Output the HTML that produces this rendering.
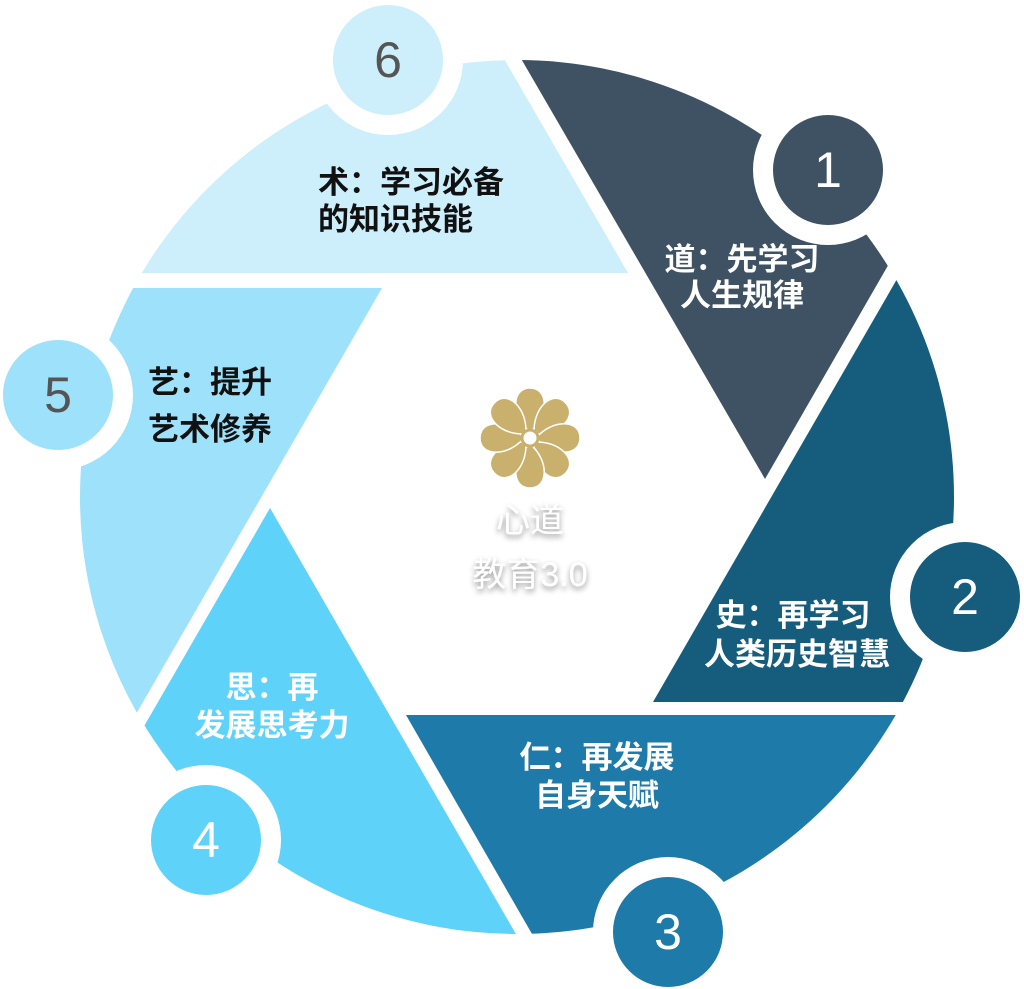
<!DOCTYPE html>
<html><head><meta charset="utf-8"><style>
html,body{margin:0;padding:0;background:#fff;width:1024px;height:989px;overflow:hidden}
svg{display:block}
.t{font-family:"Liberation Sans","Noto Sans CJK SC",sans-serif;font-weight:bold;font-size:31px;dominant-baseline:middle}
.n{font-family:"Liberation Sans",sans-serif;font-size:50px;text-anchor:middle;dominant-baseline:central}
.c{font-family:"Liberation Sans","Noto Sans CJK SC",sans-serif;font-size:34px;fill:#fff;text-anchor:middle;dominant-baseline:middle}
</style></head><body>
<svg width="1024" height="989" viewBox="0 0 1024 989" xmlns="http://www.w3.org/2000/svg">
<defs>
<clipPath id="cc"><circle cx="517" cy="497" r="437"/></clipPath>
<filter id="sh" x="-20%" y="-20%" width="140%" height="160%"><feDropShadow dx="0" dy="3" stdDeviation="3" flood-color="#000" flood-opacity="0.45"/></filter>
</defs>
<g clip-path="url(#cc)">
<polygon fill="#cdeefb" points="0,0 470,0 628,273 0,273"/>
<polygon fill="#3e5263" points="487,0 1041,0 765,479"/>
<polygon fill="#165d7d" points="1058,0 1100,0 1100,702 653,702"/>
<polygon fill="#1e7aa8" points="406,715 1100,715 1100,1000 570,1000"/>
<polygon fill="#5fd2fa" points="270,508 554,1000 -14,1000"/>
<polygon fill="#9de1fa" points="-50,288 382,288 -29,1000 -50,1000"/>
</g>
<g stroke="#fff" stroke-width="20">
<circle cx="828" cy="170" r="65" fill="#3e5263"/>
<circle cx="965" cy="597" r="65" fill="#165d7d"/>
<circle cx="668" cy="932" r="65" fill="#1e7aa8"/>
<circle cx="206" cy="840" r="65" fill="#5fd2fa"/>
<circle cx="58" cy="395" r="65" fill="#9de1fa"/>
<circle cx="388" cy="60" r="65" fill="#cdeefb"/>
</g>
<text class="n" x="828" y="170" fill="#fff">1</text>
<text class="n" x="965" y="597" fill="#fff">2</text>
<text class="n" x="668" y="932" fill="#fff">3</text>
<text class="n" x="206" y="840" fill="#fff">4</text>
<text class="n" x="58" y="395" fill="#555">5</text>
<text class="n" x="388" y="60" fill="#555">6</text>

<text class="t" x="318" y="185" fill="#111">术：学习必备</text>
<text class="t" x="318" y="222" fill="#111">的知识技能</text>
<text class="t" x="742" y="262" fill="#fff" text-anchor="middle">道：先学习</text>
<text class="t" x="742" y="298" fill="#fff" text-anchor="middle">人生规律</text>
<text class="t" x="793" y="618" fill="#fff" text-anchor="middle">史：再学习</text>
<text class="t" x="797" y="657" fill="#fff" text-anchor="middle">人类历史智慧</text>
<text class="t" x="597" y="760" fill="#fff" text-anchor="middle">仁：再发展</text>
<text class="t" x="597" y="798" fill="#fff" text-anchor="middle">自身天赋</text>
<text class="t" x="272" y="690" fill="#fff" text-anchor="middle">思：再</text>
<text class="t" x="272" y="728" fill="#fff" text-anchor="middle">发展思考力</text>
<text class="t" x="148" y="385" fill="#111">艺：提升</text>
<text class="t" x="148" y="432" fill="#111">艺术修养</text>

<g transform="translate(530,438)" fill="#c9b06d" stroke="#fff" stroke-width="1.5">
<g id="p"><path d="M0,-6 C-19,-22 -19,-50 0,-50 C19,-50 19,-22 0,-6 Z"/></g>
<use href="#p" transform="rotate(45)"/>
<use href="#p" transform="rotate(90)"/>
<use href="#p" transform="rotate(135)"/>
<use href="#p" transform="rotate(180)"/>
<use href="#p" transform="rotate(225)"/>
<use href="#p" transform="rotate(270)"/>
<use href="#p" transform="rotate(315)"/>
<circle r="8" fill="#fff" stroke="#c9b06d" stroke-width="3"/>
</g>
<g filter="url(#sh)">
<text class="c" x="530" y="523">心道</text>
<text class="c" x="530" y="577">教育3.0</text>
</g>
</svg>
</body></html>
